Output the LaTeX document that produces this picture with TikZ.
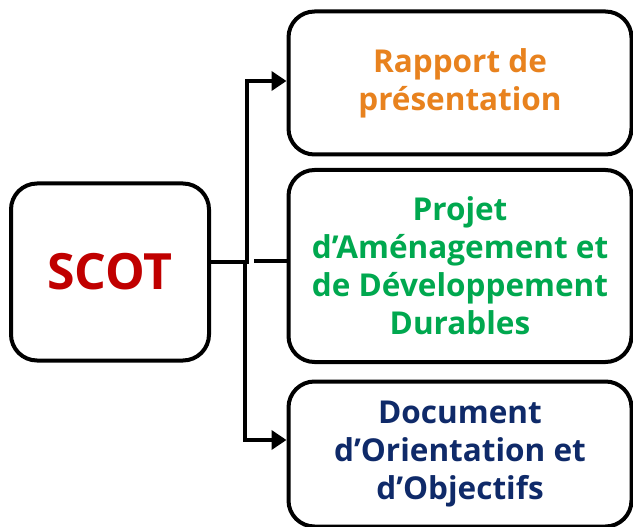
\documentclass[tikz,border=0pt]{standalone}
\usepackage{fontspec}
\setmainfont{Open Sans}[Ligatures=NoCommon]
\usetikzlibrary{arrows.meta}
\definecolor{scotred}{HTML}{C00000}
\definecolor{rorange}{HTML}{E8821E}
\definecolor{pgreen}{HTML}{00A84F}
\definecolor{dnavy}{HTML}{0F2A69}
\tikzset{
  box/.style={draw=black, line width=4pt, rounded corners=26pt, fill=white, align=center, inner sep=0pt, font=\bfseries\fontsize{31.5}{38}\selectfont},
  conn/.style={line width=4pt},
  arr/.style={line width=4pt, -{Triangle[length=15pt,width=19pt]}},
}
\begin{document}
\begin{tikzpicture}[x=1pt,y=-1pt]
\useasboundingbox (0,0) rectangle (633,527);
\node[box, minimum width=198pt, minimum height=177pt, text=scotred, font=\bfseries\fontsize{50}{54}\selectfont] (scot) at (110,272) {SCOT};
\node[box, minimum width=343pt, minimum height=143pt, text=rorange] (b1) at (460,83) {Rapport de\\présentation};
\node[box, minimum width=343pt, minimum height=192pt, text=pgreen] (b2) at (460,266) {Projet\\d’Aménagement et\\de Développement\\Durables};
\node[box, minimum width=343pt, minimum height=145pt, text=dnavy] (b3) at (460,454) {Document\\d’Orientation et\\d’Objectifs};
\coordinate (j) at (247,262);
\coordinate (jb) at (245,262);
\coordinate (d) at (254,261);
\coordinate (a1) at (247,81);
\coordinate (a3) at (245,440);
\draw[conn] (scot.east |- j) -- ([xshift=2pt]j);
\draw[arr, line cap=rect] (j) -- (a1) -- (a1 -| b1.west);
\draw[arr] (jb) -- (a3) -- (a3 -| b3.west);
\draw[conn] (d) -- (d -| b2.west);
\end{tikzpicture}
\end{document}
